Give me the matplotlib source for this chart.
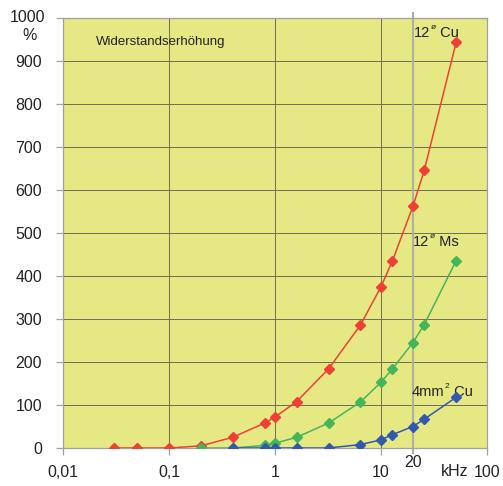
import numpy as np
import matplotlib.pyplot as plt
from matplotlib.ticker import FixedLocator, NullLocator
from matplotlib.transforms import offset_copy

plt.rcParams['font.family'] = ['Liberation Sans', 'DejaVu Sans']

# Frequenz (kHz) und Widerstandserhoehung (%)
f_cu12 = [0.03, 0.05, 0.1, 0.2, 0.4, 0.8, 1, 1.6, 3.2, 6.4, 10, 12.8, 20, 25.6, 51.2]
r_cu12 = [0, 0, 0, 5, 25, 58, 72, 108, 184, 286, 375, 435, 562, 646, 944]

f_ms12 = [0.2, 0.4, 0.8, 1, 1.6, 3.2, 6.4, 10, 12.8, 20, 25.6, 51.2]
r_ms12 = [0, 0, 6, 11, 25, 58, 107, 153, 184, 245, 287, 436]

f_cu4 = [0.4, 0.8, 1, 1.6, 3.2, 6.4, 10, 12.8, 20, 25.6, 51.2]
r_cu4 = [0, 0, 0, 0, 0, 8, 19, 31, 50, 67, 118]

y_ticks = [0, 100, 200, 300, 400, 500, 600, 700, 800, 900, 1000]
x_ticks = [0.01, 0.1, 1, 10, 100]
x_labels = ['0,01', '0,1', '1', '10', '100']

txt = '#222222'
fs = 11.5

fig = plt.figure(figsize=(5.03, 4.86), dpi=100)
ax = fig.add_axes([63/503, 38/486, 424/503, 430/486])
ax.set_facecolor('#e6e884')

ax.set_xscale('log')
ax.set_xlim(0.01, 100)
ax.set_ylim(0, 1000)

ax.xaxis.set_major_locator(FixedLocator(x_ticks))
ax.xaxis.set_minor_locator(NullLocator())
ax.set_xticklabels(x_labels)
ax.set_yticks(y_ticks)
ax.set_yticklabels([str(v) for v in y_ticks[:-1]] + [''])

ax.grid(True, color='#6e6e55', lw=0.7)
ax.set_axisbelow(True)
for s in ['top', 'right', 'bottom', 'left']:
    ax.spines[s].set_color('#a0a0a0')
    ax.spines[s].set_linewidth(0.9)
ax.tick_params(axis='both', colors='#a0a0a0', labelcolor=txt, labelsize=fs, length=5, width=0.9)
ax.tick_params(axis='x', pad=7)
ax.tick_params(axis='y', pad=10)

# 20-kHz-Linie
ax.axvline(20, ymin=-0.012, ymax=1.012, color='#b0b0a0', lw=1.5, clip_on=False, zorder=1.5)

ax.plot(f_cu12, r_cu12, color='#ee4035', lw=1.1, marker='D', ms=5, zorder=3)
ax.plot(f_ms12, r_ms12, color='#45b55a', lw=1.1, marker='D', ms=5, zorder=3)
ax.plot(f_cu4, r_cu4, color='#3358b0', lw=1.1, marker='D', ms=5, zorder=4)


def label(x, y, a, sup, b):
    # Text mit kleinem hochgestelltem Zeichen
    t = ax.text(x, y, a, fontsize=10.5, color=txt, va='center')
    fig.canvas.draw()
    w = t.get_window_extent().width * 72 / fig.dpi
    tr = offset_copy(ax.transData, fig=fig, x=w + 0.3, y=4, units='points')
    ax.text(x, y, sup, fontsize=6, color=txt, va='center', transform=tr)
    tr2 = offset_copy(ax.transData, fig=fig, x=w + 4, y=0, units='points')
    ax.text(x, y, b, fontsize=10.5, color=txt, va='center', transform=tr2)


ax.text(0.0205, 945, 'Widerstandserhöhung', fontsize=9.5, color=txt, va='center')
label(20.5, 965, '12', 'ø', ' Cu')
label(20.0, 478, '12', 'ø', ' Ms')
label(19.5, 130, '4mm', '2', ' Cu')

fig.text(45/503, 1 - 18/486, '1000', fontsize=fs, color=txt, ha='right', va='center')
fig.text(30/503, 1 - 36/486, '%', fontsize=fs, color=txt, ha='center', va='center')
fig.text(413/503, 1 - 462/486, '20', fontsize=fs, color=txt, ha='center', va='center')
fig.text(455/503, 1 - 471/486, 'kHz', fontsize=fs, color=txt, ha='center', va='center')

fig.savefig('out.png', dpi=100)
